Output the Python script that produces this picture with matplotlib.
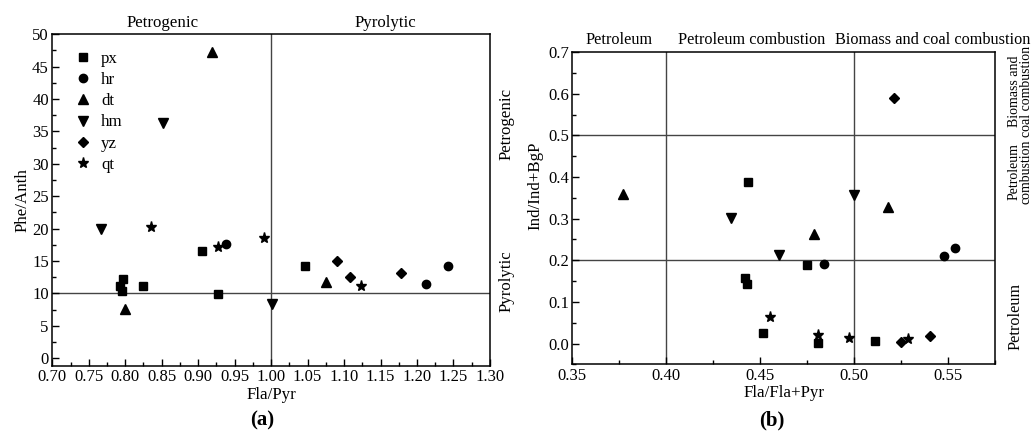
import matplotlib
matplotlib.use('Agg')
import matplotlib.pyplot as plt
from matplotlib.ticker import MultipleLocator, FormatStrFormatter

plt.rcParams['font.family'] = ['Liberation Serif', 'DejaVu Serif']
plt.rcParams['font.size'] = 12.2

names = ['px', 'hr', 'dt', 'hm', 'yz', 'qt']
markers = ['s', 'o', '^', 'v', 'D', '*']
msizes = [5.5, 6, 6.5, 6.5, 5, 8]

# (a) Fla/Pyr vs Phe/Anth
a_x = {
    'px': [0.797, 0.793, 0.796, 0.824, 0.905, 0.927, 1.046],
    'hr': [0.938, 1.212, 1.243],
    'dt': [0.800, 0.919, 1.075],
    'hm': [0.767, 0.852, 1.001],
    'yz': [1.090, 1.108, 1.178],
    'qt': [0.835, 0.927, 0.990, 1.123],
}
a_y = {
    'px': [12.3, 11.1, 10.3, 11.1, 16.6, 9.9, 14.2],
    'hr': [17.6, 11.5, 14.2],
    'dt': [7.6, 47.3, 11.7],
    'hm': [19.9, 36.3, 8.4],
    'yz': [15.0, 12.6, 13.2],
    'qt': [20.3, 17.1, 18.6, 11.1],
}

# (b) Fla/Fla+Pyr vs Ind/Ind+BgP
b_x = {
    'px': [0.4436, 0.475, 0.4419, 0.4431, 0.4516, 0.4809, 0.511],
    'hr': [0.4837, 0.5477, 0.5539],
    'dt': [0.3768, 0.4787, 0.5178],
    'hm': [0.4343, 0.4601, 0.4998],
    'yz': [0.5213, 0.5252, 0.5406],
    'qt': [0.4552, 0.4809, 0.4973, 0.5287],
}
b_y = {
    'px': [0.387, 0.189, 0.158, 0.144, 0.026, 0.002, 0.006],
    'hr': [0.192, 0.210, 0.229],
    'dt': [0.359, 0.263, 0.328],
    'hm': [0.301, 0.213, 0.357],
    'yz': [0.591, 0.004, 0.019],
    'qt': [0.063, 0.021, 0.014, 0.012],
}

fig = plt.figure(figsize=(10.35, 4.32), dpi=100)
ax1 = fig.add_axes([0.0505, 0.1528, 0.4229, 0.7678])
ax2 = fig.add_axes([0.553, 0.1567, 0.4084, 0.7223])

for ax in (ax1, ax2):
    for s in ax.spines.values():
        s.set_linewidth(1.1)
    ax.tick_params(which='both', direction='in', top=False, right=False, labelsize=12)
    ax.tick_params(which='major', length=5, width=1, pad=2.5)
    ax.tick_params(which='minor', length=3, width=1)

for n, m, ms in zip(names, markers, msizes):
    ax1.plot(a_x[n], a_y[n], linestyle='none', marker=m, markersize=ms, color='black', label=n)
    ax2.plot(b_x[n], b_y[n], linestyle='none', marker=m, markersize=ms, color='black')

ax1.set_xlim(0.70, 1.30)
ax1.set_ylim(-1.2, 50)
ax1.xaxis.set_major_locator(MultipleLocator(0.05))
ax1.xaxis.set_minor_locator(MultipleLocator(0.025))
ax1.xaxis.set_major_formatter(FormatStrFormatter('%.2f'))
ax1.yaxis.set_major_locator(MultipleLocator(5))
ax1.yaxis.set_minor_locator(MultipleLocator(2.5))
ax1.axvline(1.0, color='#444444', lw=1, zorder=0)
ax1.axhline(10, color='#444444', lw=1, zorder=0)
ax1.set_xlabel('Fla/Pyr', labelpad=1)
ax1.set_ylabel('Phe/Anth', labelpad=1)
ax1.legend(loc='upper left', bbox_to_anchor=(0.015, 0.995), frameon=False,
           handletextpad=0.6, labelspacing=0.3, handlelength=1.0, fontsize=12.2)

ax2.set_xlim(0.35, 0.575)
ax2.set_ylim(-0.05, 0.7)
ax2.xaxis.set_major_locator(MultipleLocator(0.05))
ax2.xaxis.set_minor_locator(MultipleLocator(0.025))
ax2.xaxis.set_major_formatter(FormatStrFormatter('%.2f'))
ax2.yaxis.set_major_locator(MultipleLocator(0.1))
ax2.yaxis.set_minor_locator(MultipleLocator(0.05))
ax2.yaxis.set_major_formatter(FormatStrFormatter('%.1f'))
for v in (0.4, 0.5):
    ax2.axvline(v, color='#444444', lw=1, zorder=0)
for v in (0.2, 0.5):
    ax2.axhline(v, color='#444444', lw=1, zorder=0)
ax2.set_xlabel('Fla/Fla+Pyr', labelpad=1)

# region labels, figure pixel coordinates
W, H = 1035, 432
def ftext(x, y, s, **kw):
    fig.text(x / W, 1 - y / H, s, ha='center', va='center', **kw)

ftext(163, 23, 'Petrogenic')
ftext(385, 23, 'Pyrolytic')
ftext(507, 124, 'Petrogenic', rotation=90)
ftext(507, 281, 'Pyrolytic', rotation=90)
ftext(535, 186, 'Ind/Ind+BgP', rotation=90)

ftext(619, 40, 'Petroleum', fontsize=11.7)
ftext(752, 40, 'Petroleum combustion', fontsize=11.7)
ftext(933, 40, 'Biomass and coal combustion', fontsize=11.7)
ftext(1020, 91, 'Biomass and\ncoal combustion', rotation=90, linespacing=0.9, fontsize=10)
ftext(1020, 172, 'Petroleum\ncombustion', rotation=90, linespacing=0.9, fontsize=10)
ftext(1015, 316, 'Petroleum', rotation=90, fontsize=11.7)

ftext(262, 420, '(a)', fontweight='bold', fontsize=15)
ftext(772, 420, '(b)', fontweight='bold', fontsize=15)

fig.savefig('out.png', dpi=100)
